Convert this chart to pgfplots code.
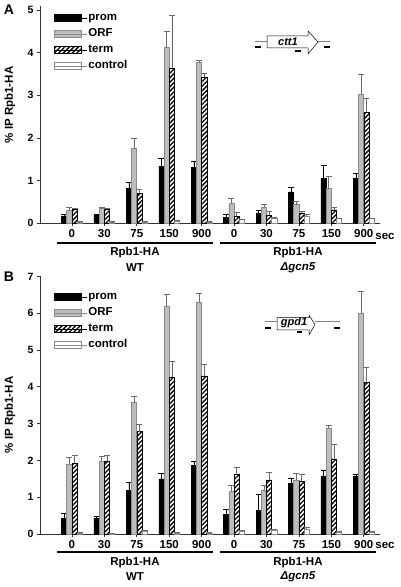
\documentclass[border=0pt]{standalone}
\usepackage{fontspec}
\setmainfont{Liberation Sans}
\usepackage{pgfplots}
\pgfplotsset{compat=1.18}
\usetikzlibrary{patterns.meta}

\definecolor{orfgray}{HTML}{BDBDBD}
\definecolor{edgegray}{HTML}{8A8A8A}
\definecolor{errgray}{HTML}{6A6A6A}

\pgfplotsset{
  myleg/.style={legend image code/.code={\draw[##1] (0pt,-3.5pt) rectangle (27pt,3.5pt); \path (0pt,0pt) -- (33pt,0pt);}},
  chipaxis/.style={
    scale only axis, width=340pt,
    xmin=-0.985, xmax=9.5, ymin=0,
    axis x line*=bottom, axis y line*=left,
    axis line style={-, black!80, line width=0.7pt},
    tick align=outside, major tick length=3pt,
    tick style={black!80, line width=0.7pt},
    xtick={0,...,9}, xticklabels={0,30,75,150,900,0,30,75,150,900},
    ybar=0pt, bar width=5.2pt,
    /pgf/number format/assume math mode=true,
    xticklabel style={font=\bfseries\fontsize{11.5}{13}\selectfont},
    yticklabel style={font=\bfseries\fontsize{10.5}{12}\selectfont},
    legend style={draw=none, fill=none, font=\bfseries\fontsize{11.5}{13}\selectfont,
      anchor=north west, row sep=3.5pt, inner sep=0pt,
      nodes={inner sep=1pt, text height=8pt, text depth=2.5pt}},
    legend cell align=left,
    error bars/y dir=plus, error bars/y explicit,
    clip=false,
  },
  prom/.style={fill=black, draw=black, line width=0.5pt,
    error bars/error bar style={black, line width=0.6pt},
    error bars/error mark options={rotate=90, black, line width=0.6pt, mark size=3pt}, myleg},
  orf/.style={fill=orfgray, draw=edgegray, line width=0.6pt,
    error bars/error bar style={errgray, line width=0.6pt},
    error bars/error mark options={rotate=90, errgray, line width=0.6pt, mark size=3pt}, myleg},
  term/.style={pattern={Lines[angle=45, distance=3.2pt, line width=1.3pt]}, draw=black, line width=0.5pt,
    error bars/error bar style={errgray, line width=0.6pt},
    error bars/error mark options={rotate=90, errgray, line width=0.6pt, mark size=3pt}, myleg},
  ctrl/.style={fill=white, draw=edgegray, line width=0.6pt,
    error bars/error bar style={errgray, line width=0.6pt},
    error bars/error mark options={rotate=90, errgray, line width=0.6pt, mark size=3pt}, myleg},
}

\begin{document}
\begin{tikzpicture}[x=1pt,y=1pt]
\useasboundingbox (0pt,0pt) rectangle (400pt,587pt);

% ---------------- Panel A ----------------
\begin{axis}[chipaxis, at={(40pt,364pt)}, anchor=south west, height=217pt,
  ymax=5.1, ytick={0,1,2,3,4,5},
  legend style={at={(0.04,0.975)}}]
\addplot[prom] table[x=x,y=y,y error=e,row sep=\\] {
x y e\\ 0 0.17 0.03\\ 1 0.20 0.01\\ 2 0.82 0.13\\ 3 1.33 0.18\\ 4 1.30 0.16\\
5 0.13 0.07\\ 6 0.24 0.05\\ 7 0.73 0.12\\ 8 1.04 0.32\\ 9 1.04 0.12\\};
\addplot[orf] table[x=x,y=y,y error=e,row sep=\\] {
x y e\\ 0 0.29 0.09\\ 1 0.34 0.02\\ 2 1.75 0.23\\ 3 4.12 0.38\\ 4 3.78 0.05\\
5 0.46 0.13\\ 6 0.38 0.06\\ 7 0.43 0.07\\ 8 0.81 0.28\\ 9 3.03 0.47\\};
\addplot[term] table[x=x,y=y,y error=e,row sep=\\] {
x y e\\ 0 0.33 0.02\\ 1 0.33 0.02\\ 2 0.70 0.10\\ 3 3.64 1.25\\ 4 3.43 0.08\\
5 0.17 0.08\\ 6 0.18 0.09\\ 7 0.23 0.04\\ 8 0.31 0.07\\ 9 2.60 0.33\\};
\addplot[ctrl] table[x=x,y=y,y error=e,row sep=\\] {
x y e\\ 0 0.02 0.01\\ 1 0.02 0.01\\ 2 0.02 0.01\\ 3 0.05 0.02\\ 4 0.02 0.01\\
5 0.08 0.01\\ 6 0.10 0.03\\ 7 0.16 0.04\\ 8 0.10 0.01\\ 9 0.10 0.02\\};
\legend{prom,ORF,term,control}
\end{axis}

% ---------------- Panel B ----------------
\begin{axis}[chipaxis, at={(40pt,53pt)}, anchor=south west, height=257.6pt,
  ymax=7, ytick={0,1,2,3,4,5,6,7},
  legend style={at={(0.04,0.945)}}]
\addplot[prom] table[x=x,y=y,y error=e,row sep=\\] {
x y e\\ 0 0.44 0.13\\ 1 0.43 0.04\\ 2 1.18 0.22\\ 3 1.50 0.15\\ 4 1.86 0.11\\
5 0.53 0.15\\ 6 0.65 0.42\\ 7 1.37 0.15\\ 8 1.58 0.14\\ 9 1.56 0.06\\};
\addplot[orf] table[x=x,y=y,y error=e,row sep=\\] {
x y e\\ 0 1.89 0.20\\ 1 1.98 0.12\\ 2 3.57 0.16\\ 3 6.20 0.30\\ 4 6.30 0.25\\
5 1.16 0.16\\ 6 1.20 0.12\\ 7 1.47 0.18\\ 8 2.88 0.07\\ 9 6.00 0.60\\};
\addplot[term] table[x=x,y=y,y error=e,row sep=\\] {
x y e\\ 0 1.92 0.21\\ 1 1.98 0.15\\ 2 2.78 0.20\\ 3 4.26 0.42\\ 4 4.30 0.32\\
5 1.62 0.18\\ 6 1.47 0.21\\ 7 1.44 0.19\\ 8 2.04 0.39\\ 9 4.12 0.40\\};
\addplot[ctrl] table[x=x,y=y,y error=e,row sep=\\] {
x y e\\ 0 0.03 0.01\\ 1 0.02 0.01\\ 2 0.08 0.02\\ 3 0.03 0.02\\ 4 0.03 0.01\\
5 0.08 0.02\\ 6 0.10 0.03\\ 7 0.14 0.04\\ 8 0.05 0.02\\ 9 0.05 0.02\\};
\legend{prom,ORF,term,control}
\end{axis}

% ---------------- annotations ----------------
\begin{scope}[font=\bfseries\fontsize{11.5}{13}\selectfont]
% panel letters
\node[font=\bfseries\fontsize{14}{16}\selectfont] at (9pt,577pt) {A};
\node[font=\bfseries\fontsize{14}{16}\selectfont] at (9pt,310pt) {B};
% y labels
\node[rotate=90] at (10pt,482pt) {\% IP Rpb1-HA};
\node[rotate=90] at (10pt,172pt) {\% IP Rpb1-HA};
% sec
\node at (385pt,351pt) {sec};
\node at (385pt,42pt) {sec};
% group bars A
\draw[line width=1.5pt] (57pt,344pt) -- (213pt,344pt);
\draw[line width=1.5pt] (220pt,344pt) -- (376pt,344pt);
\node at (135pt,334pt) {Rpb1-HA};
\node at (135pt,319pt) {WT};
\node at (298pt,334pt) {Rpb1-HA};
\node at (298pt,319pt) {\itshape Δgcn5};
% group bars B
\draw[line width=1.5pt] (57pt,35pt) -- (213pt,35pt);
\draw[line width=1.5pt] (220pt,35pt) -- (376pt,35pt);
\node at (135pt,24pt) {Rpb1-HA};
\node at (135pt,10pt) {WT};
\node at (298pt,24pt) {Rpb1-HA};
\node at (298pt,10pt) {\itshape Δgcn5};
\end{scope}

% gene diagram A (ctt1)
\draw[gray, line width=1pt] (255pt,545pt) -- (267pt,545pt);
\draw[gray, line width=1pt] (318pt,545pt) -- (330pt,545pt);
\draw[black, fill=white, line width=0.5pt]
  (267pt,551pt) -- (308pt,551pt) -- (308pt,556pt) -- (318pt,545pt) -- (308pt,533pt) -- (308pt,539pt) -- (267pt,539pt) -- cycle;
\node[font=\bfseries\itshape\fontsize{11}{13}\selectfont] at (288pt,545.5pt) {ctt1};
\draw[line width=1.5pt] (255pt,540pt) -- (261pt,540pt);
\draw[line width=1.5pt] (295pt,536pt) -- (301pt,536pt);
\draw[line width=1.5pt] (324pt,540pt) -- (330pt,540pt);

% gene diagram B (gpd1)
\draw[gray, line width=1pt] (265pt,265pt) -- (277pt,265pt);
\draw[gray, line width=1pt] (315pt,265pt) -- (340pt,265pt);
\draw[black, fill=white, line width=0.5pt]
  (277pt,269.3pt) -- (309pt,269.3pt) -- (309pt,272pt) -- (315pt,262.5pt) -- (309pt,252pt) -- (309pt,257pt) -- (277pt,257pt) -- cycle;
\node[font=\bfseries\itshape\fontsize{11}{13}\selectfont] at (294pt,264.5pt) {gpd1};
\draw[line width=1.5pt] (265pt,259pt) -- (271pt,259pt);
\draw[line width=1.5pt] (297pt,255pt) -- (302pt,255pt);
\draw[line width=1.5pt] (334pt,259pt) -- (340pt,259pt);
\end{tikzpicture}
\end{document}
